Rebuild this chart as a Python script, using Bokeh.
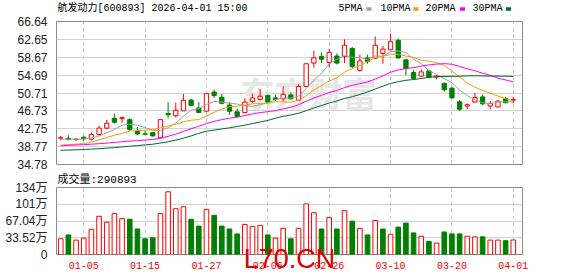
from bokeh.plotting import figure
from bokeh.layouts import column
from bokeh.models import Range1d, FixedTicker, Label, ColumnDataSource
from bokeh.embed import file_html
from bokeh.resources import INLINE

# ---------------- data ----------------
dates = ["12-29", "12-30", "12-31", "01-05", "01-06", "01-07", "01-08", "01-09", "01-12", "01-13",
         "01-14", "01-15", "01-16", "01-19", "01-20", "01-21", "01-22", "01-23", "01-26", "01-27",
         "01-28", "01-29", "01-30", "02-02", "02-03", "02-04", "02-05", "02-06", "02-09", "02-10",
         "02-11", "02-12", "02-13", "02-24", "02-25", "02-26", "02-27", "03-02", "03-03", "03-04",
         "03-05", "03-06", "03-09", "03-10", "03-11", "03-12", "03-13", "03-16", "03-17", "03-18",
         "03-19", "03-20", "03-23", "03-24", "03-25", "03-26", "03-27", "03-30", "03-31", "04-01"]

opens = [40.65, 40.62, 40.36, 40.86, 40.43, 41.44, 42.89, 45.06, 45.00, 44.77,
         42.24, 41.60, 41.88, 40.72, 46.15, 45.64, 46.73, 49.12, 47.38, 46.66,
         50.93, 49.77, 48.03, 46.51, 46.37, 48.83, 49.26, 50.13, 49.62, 49.41,
         50.28, 49.12, 52.16, 57.37, 58.82, 57.52, 58.96, 58.82, 60.63, 55.78,
         58.53, 58.46, 59.54, 60.34, 62.44, 58.10, 55.27, 54.48, 55.64, 54.26,
         52.88, 51.80, 48.76, 47.81, 48.68, 49.84, 47.81, 47.60, 49.41, 49.12]
highs = [41.15, 41.30, 40.57, 41.15, 41.88, 43.47, 44.70, 46.15, 45.50, 45.06,
         43.11, 42.31, 42.02, 44.77, 48.68, 48.54, 50.49, 49.41, 48.68, 50.71,
         51.43, 50.49, 48.68, 47.23, 49.55, 50.57, 51.58, 50.42, 50.35, 52.16,
         50.85, 52.66, 57.23, 60.12, 59.76, 60.48, 59.54, 62.66, 60.99, 59.25,
         59.25, 63.30, 61.21, 63.96, 62.87, 58.31, 55.92, 55.92, 55.92, 54.69,
         53.03, 52.01, 49.12, 48.39, 50.71, 50.35, 48.90, 49.12, 49.84, 49.84]
lows = [40.14, 40.14, 40.00, 40.00, 40.14, 41.15, 42.60, 43.90, 44.05, 42.31,
        41.30, 41.30, 41.01, 40.57, 45.06, 45.28, 46.73, 47.81, 46.22, 46.51,
        49.62, 48.17, 45.86, 45.21, 46.22, 48.54, 49.12, 48.54, 48.90, 48.83,
        49.12, 49.12, 52.01, 56.36, 57.37, 56.36, 57.08, 57.37, 56.14, 55.42,
        57.23, 58.30, 57.23, 60.27, 58.31, 54.69, 53.61, 54.33, 54.04, 53.75,
        51.00, 49.55, 46.66, 47.09, 48.54, 47.96, 47.09, 47.45, 48.39, 48.39]
closes = [40.72, 40.40, 40.45, 40.50, 41.44, 42.89, 43.97, 44.19, 45.21, 42.60,
          41.59, 41.52, 41.15, 44.77, 45.86, 46.87, 49.10, 47.96, 46.37, 50.57,
          50.13, 48.39, 46.66, 45.50, 48.68, 49.62, 49.99, 48.68, 49.26, 50.42,
          49.41, 52.16, 57.23, 58.53, 58.24, 59.76, 57.37, 61.35, 56.65, 57.85,
          57.75, 61.35, 60.48, 62.15, 58.53, 56.14, 53.97, 55.42, 54.19, 54.48,
          51.43, 49.62, 47.09, 48.10, 49.70, 48.30, 48.39, 48.90, 48.54, 49.26]
volumes_wan = [31.4, 39.2, 28.8, 32.7, 50.4, 76.5, 64.7, 81.8, 71.9, 70.6,
               51.0, 31.4, 33.4, 81.8, 125.6, 91.6, 95.5, 70.6, 56.9, 90.3,
               78.5, 56.9, 51.0, 41.2, 60.2, 56.2, 58.2, 39.2, 32.7, 52.3,
               31.4, 52.3, 101.4, 83.7, 51.0, 73.9, 51.0, 87.6, 66.7, 52.3,
               39.2, 68.0, 51.0, 40.5, 54.9, 62.8, 43.2, 36.6, 26.2, 22.9,
               45.1, 41.2, 41.2, 36.6, 35.3, 35.3, 28.8, 28.8, 27.5, 29.09]
ma5 = [40.45, 40.42, 40.40, 40.45, 40.70, 41.14, 41.85, 42.60, 43.54, 43.77,
       43.51, 43.02, 42.41, 42.33, 42.98, 44.03, 45.55, 46.91, 47.23, 48.17,
       48.83, 48.68, 48.42, 48.25, 47.87, 47.77, 48.09, 48.49, 49.25, 49.59,
       49.55, 49.99, 51.70, 53.55, 55.11, 57.18, 58.23, 59.05, 58.67, 58.60,
       58.19, 58.99, 58.82, 59.92, 60.05, 59.73, 58.25, 57.24, 55.65, 54.84,
       53.90, 53.03, 51.36, 50.14, 49.19, 48.56, 48.32, 48.68, 48.77, 48.68]
ma10 = [39.10, 39.20, 39.30, 39.45, 39.75, 40.25, 40.80, 41.30, 41.70, 42.24,
        42.32, 42.44, 42.51, 42.93, 43.38, 43.77, 44.29, 44.66, 44.78, 45.58,
        46.43, 47.12, 47.67, 47.74, 48.02, 48.30, 48.39, 48.46, 48.75, 48.73,
        48.66, 49.04, 50.10, 51.40, 52.35, 53.37, 54.11, 55.37, 56.11, 56.86,
        57.69, 58.61, 58.93, 59.30, 59.32, 58.96, 58.62, 58.03, 57.78, 57.45,
        56.81, 55.64, 54.30, 52.90, 52.01, 51.23, 50.67, 50.02, 49.46, 48.93]
ma20 = [38.95, 39.05, 39.12, 39.20, 39.30, 39.42, 39.55, 39.70, 39.85, 39.98,
        40.10, 40.22, 40.35, 40.65, 41.05, 41.55, 42.15, 42.75, 43.30, 43.91,
        44.38, 44.78, 45.09, 45.34, 45.70, 46.04, 46.34, 46.56, 46.76, 47.15,
        47.55, 48.08, 48.88, 49.57, 50.19, 50.83, 51.25, 51.92, 52.43, 52.79,
        53.18, 53.82, 54.51, 55.35, 55.84, 56.17, 56.36, 56.70, 56.95, 57.15,
        57.25, 57.12, 56.62, 56.10, 55.67, 55.10, 54.65, 54.02, 53.62, 53.19]
ma30 = [37.95, 38.00, 38.05, 38.12, 38.20, 38.30, 38.42, 38.55, 38.70, 38.85,
        39.00, 39.15, 39.30, 39.55, 39.85, 40.20, 40.65, 41.15, 41.70, 42.20,
        42.45, 42.70, 42.95, 43.25, 43.55, 43.90, 44.25, 44.60, 45.10, 45.52,
        45.81, 46.20, 46.76, 47.36, 47.92, 48.48, 48.93, 49.50, 49.88, 50.39,
        50.93, 51.59, 52.23, 52.81, 53.23, 53.54, 53.71, 53.95, 54.21, 54.34,
        54.39, 54.43, 54.44, 54.53, 54.56, 54.52, 54.47, 54.47, 54.45, 54.41]

price_ticks = [34.78, 38.77, 42.75, 46.73, 50.71, 54.69, 58.67, 62.65, 66.64]
vol_ticks = [0, 33.52, 67.04, 100.56, 134.08]
vol_tick_labels = ["0", "33.52万", "67.04万", "101万", "134万"]
date_tick_labels = ["01-05", "01-15", "01-27", "02-06", "02-26", "03-10", "03-20", "04-01"]

title_text = "航发动力[600893] 2026-04-01 15:00"
volume_title = "成交量:290893"
ma_names = ["5PMA", "10PMA", "20PMA", "30PMA"]
watermark = "L70.CN"

# ---------------- styling ----------------
W = 578
ML, MR = 56, 56
RED = "#ff0000"
GREEN = "#008000"
MA_COLORS = ["#a0a0a0", "#f0a000", "#ff00ff", "#006633"]
GRID = "#d2d2d2"
VGRID = "#c8c8c8"
BORDER = "#8c8c8c"
MONO = "'Liberation Mono', 'Noto Sans CJK SC'"
SANS = "'Liberation Sans', 'Noto Sans CJK SC'"

n = len(closes)
xs = list(range(n))
up = [c >= o for o, c in zip(opens, closes)]
vol_up = [closes[i] >= (closes[i - 1] if i > 0 else opens[i]) for i in range(n)]

src = ColumnDataSource(dict(
    x=xs, high=highs, low=lows,
    top=[max(o, c) for o, c in zip(opens, closes)],
    bottom=[min(o, c) for o, c in zip(opens, closes)],
    line=[RED if u else GREEN for u in up],
    fill=["#ffffff" if u else GREEN for u in up],
))
vsrc = ColumnDataSource(dict(
    x=xs, v=volumes_wan,
    line=[RED if u else GREEN for u in vol_up],
    fill=["#ffffff" if u else GREEN for u in vol_up],
))

date_pos = [dates.index(d) for d in date_tick_labels]
xr = Range1d(-0.55, 60.2)

# ---------------- header strip (title + MA legend), frame = canvas pixels 56..522 ----------------
HH = 13
h = figure(width=W, height=HH, x_range=Range1d(ML, W - MR), y_range=Range1d(0, HH),
           output_backend="svg", toolbar_location=None,
           min_border_left=ML, min_border_right=MR, min_border_top=0, min_border_bottom=0)
h.axis.visible = False
h.grid.visible = False
h.outline_line_color = None
h.background_fill_color = "#ffffff"
h.border_fill_color = "#ffffff"
h.add_layout(Label(x=57, y=HH - 8.3, text=title_text, text_font=MONO, text_font_size="10px",
                   text_color="#000000", text_baseline="middle"))
leg_x = [338, 380, 425, 472]
sq_x = [368.5, 415.5, 462, 508]
for name, lx in zip(ma_names, leg_x):
    h.add_layout(Label(x=lx, y=HH - 8.3, text=name, text_font=MONO, text_font_size="10px",
                       text_color="#000000", text_baseline="middle"))
h.rect(x=sq_x, y=[HH - 8.6] * 4, width=5, height=3.5, fill_color=MA_COLORS, line_color=None)

# ---------------- price panel ----------------
p = figure(width=W, height=158, x_range=xr, y_range=Range1d(price_ticks[0], price_ticks[-1]),
           output_backend="svg", toolbar_location=None,
           min_border_left=ML, min_border_right=MR, min_border_top=8, min_border_bottom=7)
p.background_fill_color = "#ffffff"
p.border_fill_color = "#ffffff"
p.outline_line_color = BORDER
p.xaxis.visible = False
p.xgrid.ticker = FixedTicker(ticks=date_pos)
p.xgrid.grid_line_color = VGRID
p.xgrid.grid_line_dash = "4 3"
p.ygrid.ticker = FixedTicker(ticks=price_ticks)
p.ygrid.grid_line_color = GRID
p.yaxis.ticker = FixedTicker(ticks=price_ticks)
p.yaxis.major_label_overrides = {t: f"{t:.2f}" for t in price_ticks}
p.yaxis.axis_line_color = None
p.yaxis.major_tick_line_color = None
p.yaxis.minor_tick_line_color = None
p.yaxis.major_label_standoff = 3
p.yaxis.major_label_text_font = SANS
p.yaxis.major_label_text_font_size = "12px"
p.yaxis.major_label_text_color = "#222222"

p.add_layout(Label(x=184, y=72, x_units="screen", y_units="screen", text="东方财富",
                   text_font="'Noto Sans CJK SC'", text_font_size="34px", text_font_style="bold",
                   text_color="#e6e6e6", text_baseline="middle", level="underlay"))

p.segment(x0="x", y0="low", x1="x", y1="high", line_color="line", line_width=1, source=src)
p.vbar(x="x", top="top", bottom="bottom", width=0.56, fill_color="fill", line_color="line",
       line_width=1, source=src)
for vals, col in zip([ma5, ma10, ma20, ma30], MA_COLORS):
    p.line(xs, vals, line_color=col, line_width=1)

# ---------------- volume panel ----------------
v = figure(width=W, height=105, x_range=xr, y_range=Range1d(vol_ticks[0], vol_ticks[-1]),
           output_backend="svg", toolbar_location=None,
           min_border_left=ML, min_border_right=MR, min_border_top=16, min_border_bottom=21)
v.background_fill_color = "#ffffff"
v.border_fill_color = "#ffffff"
v.outline_line_color = BORDER
v.title.text = volume_title
v.title.align = "left"
v.title.vertical_align = "top"
v.title.offset = 1
v.title.standoff = 0
v.title.text_font = MONO
v.title.text_font_size = "11px"
v.title.text_font_style = "normal"
v.title.text_color = "#000000"
v.xgrid.ticker = FixedTicker(ticks=date_pos)
v.xgrid.grid_line_color = VGRID
v.xgrid.grid_line_dash = "4 3"
v.ygrid.ticker = FixedTicker(ticks=vol_ticks)
v.ygrid.grid_line_color = GRID
v.yaxis.ticker = FixedTicker(ticks=vol_ticks)
v.yaxis.major_label_overrides = dict(zip(vol_ticks, vol_tick_labels))
v.xaxis.ticker = FixedTicker(ticks=date_pos)
v.xaxis.major_label_overrides = dict(zip(date_pos, date_tick_labels))
for ax in (v.yaxis, v.xaxis):
    ax.axis_line_color = None
    ax.major_tick_line_color = None
    ax.minor_tick_line_color = None
v.yaxis.major_label_standoff = 3
v.yaxis.major_label_text_font = SANS
v.yaxis.major_label_text_font_size = "12px"
v.yaxis.major_label_text_color = "#222222"
v.xaxis.major_label_standoff = 1
v.xaxis.major_label_text_font = "'Liberation Mono'"
v.xaxis.major_label_text_font_size = "10px"
v.xaxis.major_label_text_color = RED
# the red site watermark, drawn as the (centred) axis label pulled up over the bars
v.xaxis.axis_label = watermark
v.xaxis.axis_label_standoff = -28
v.xaxis.axis_label_text_font = "'DejaVu Sans ExtraLight', 'Liberation Sans'"
v.xaxis.axis_label_text_font_size = "27px"
v.xaxis.axis_label_text_font_style = "normal"
v.xaxis.axis_label_text_color = "#dd0000"

v.vbar(x="x", top="v", bottom=0, width=0.6, fill_color="fill", line_color="line",
       line_width=1, source=vsrc)

layout = column(h, p, v, spacing=0)
open("out.html", "w").write(file_html(layout, INLINE))
